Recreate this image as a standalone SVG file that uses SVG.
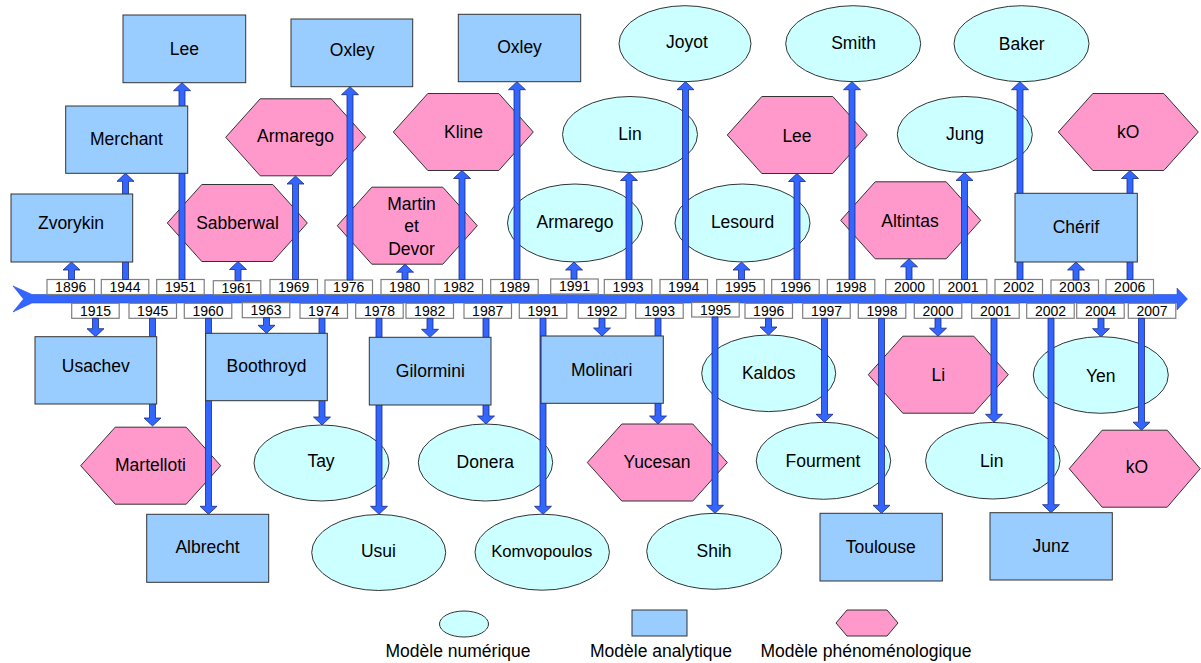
<svg xmlns="http://www.w3.org/2000/svg" width="1201" height="663" viewBox="0 0 1201 663">
<style>
.r{fill:#99CCFF;stroke:#333;stroke-width:1}
.h{fill:#FF99CC;stroke:#333;stroke-width:1}
.e{fill:#CCFFFF;stroke:#333;stroke-width:1}
.t{font-family:"Liberation Sans",Arial,sans-serif;font-size:17.5px;text-anchor:middle;fill:#000}
.yb{fill:#fff;stroke:#7f7f7f;stroke-width:1.2}
.yt{font-family:"Liberation Sans",Arial,sans-serif;font-size:14px;text-anchor:middle;fill:#000}
.a{fill:#3366FF;stroke:#1a2a80;stroke-width:0.8}
.bar{fill:#3366FF;stroke:#2a4fd0;stroke-width:0.6}
</style>
<rect width="1201" height="663" fill="#fff"/>
<g id="timeline">
<polygon class="bar" points="13,286 32,294.5 1177,294.5 1177,288 1187.5,299 1177,310 1177,303 32,303 13,312 23.5,299"/>
<g id="years-top">
<rect class="yb" x="47" y="279.5" width="47.5" height="15"/><text class="yt" x="70.7" y="291.8">1896</text>
<rect class="yb" x="101.3" y="279.5" width="47.5" height="15"/><text class="yt" x="125" y="291.8">1944</text>
<rect class="yb" x="156.7" y="279.5" width="47.5" height="15"/><text class="yt" x="180.5" y="291.8">1951</text>
<rect class="yb" x="213.3" y="280.7" width="47.5" height="14"/><text class="yt" x="237" y="292.6">1961</text>
<rect class="yb" x="270" y="279.5" width="47.5" height="15"/><text class="yt" x="293.7" y="291.8">1969</text>
<rect class="yb" x="325" y="280" width="47.5" height="14.5"/><text class="yt" x="348.7" y="292.2">1976</text>
<rect class="yb" x="381" y="279.5" width="47.5" height="15"/><text class="yt" x="404.7" y="291.8">1980</text>
<rect class="yb" x="435" y="279.5" width="47.5" height="15"/><text class="yt" x="458.7" y="291.8">1982</text>
<rect class="yb" x="490.7" y="279.5" width="47.5" height="15"/><text class="yt" x="514.5" y="291.8">1989</text>
<rect class="yb" x="550.7" y="279" width="47.5" height="15"/><text class="yt" x="574.5" y="291.3">1991</text>
<rect class="yb" x="604.3" y="279.5" width="47.5" height="15"/><text class="yt" x="628" y="291.8">1993</text>
<rect class="yb" x="660" y="279.5" width="47.5" height="15"/><text class="yt" x="683.7" y="291.8">1994</text>
<rect class="yb" x="716.7" y="279.5" width="47.5" height="15"/><text class="yt" x="740.5" y="291.8">1995</text>
<rect class="yb" x="771.7" y="279.5" width="47.5" height="15"/><text class="yt" x="795.5" y="291.8">1996</text>
<rect class="yb" x="827.3" y="279.5" width="47.5" height="15"/><text class="yt" x="851" y="291.8">1998</text>
<rect class="yb" x="885.7" y="279.5" width="47.5" height="15"/><text class="yt" x="909.5" y="291.8">2000</text>
<rect class="yb" x="939.3" y="279.5" width="47.5" height="15"/><text class="yt" x="963" y="291.8">2001</text>
<rect class="yb" x="995" y="279.5" width="47.5" height="15"/><text class="yt" x="1018.7" y="291.8">2002</text>
<rect class="yb" x="1051" y="280" width="47.5" height="14.5"/><text class="yt" x="1074.7" y="292.3">2003</text>
<rect class="yb" x="1106" y="279.5" width="47.5" height="15"/><text class="yt" x="1129.7" y="291.8">2006</text>
</g>
<g id="years-bottom">
<rect class="yb" x="71.7" y="303.3" width="47.5" height="15"/><text class="yt" x="95.5" y="315.5">1915</text>
<rect class="yb" x="129" y="303.3" width="47.5" height="15"/><text class="yt" x="152.7" y="315.5">1945</text>
<rect class="yb" x="184.3" y="303.3" width="47.5" height="15"/><text class="yt" x="208" y="315.5">1960</text>
<rect class="yb" x="242.3" y="302.7" width="47.5" height="15"/><text class="yt" x="266" y="314.8">1963</text>
<rect class="yb" x="300" y="303.3" width="47.5" height="15"/><text class="yt" x="323.7" y="315.5">1974</text>
<rect class="yb" x="355.7" y="303.3" width="47.5" height="15"/><text class="yt" x="379.5" y="315.5">1978</text>
<rect class="yb" x="406" y="303.3" width="47.5" height="15"/><text class="yt" x="429.7" y="315.5">1982</text>
<rect class="yb" x="464" y="303.3" width="47.5" height="15"/><text class="yt" x="487.7" y="315.5">1987</text>
<rect class="yb" x="519.3" y="303.3" width="47.5" height="15"/><text class="yt" x="543" y="315.5">1991</text>
<rect class="yb" x="578.3" y="303.3" width="47.5" height="15"/><text class="yt" x="602" y="315.5">1992</text>
<rect class="yb" x="635.7" y="303.3" width="47.5" height="15"/><text class="yt" x="659.5" y="315.5">1993</text>
<rect class="yb" x="691.7" y="302.5" width="47.5" height="14.5"/><text class="yt" x="715.5" y="314.5">1995</text>
<rect class="yb" x="745" y="303.3" width="47.5" height="15"/><text class="yt" x="768.7" y="315.5">1996</text>
<rect class="yb" x="802.7" y="303.3" width="47.5" height="15"/><text class="yt" x="826.5" y="315.5">1997</text>
<rect class="yb" x="858.3" y="303.3" width="47.5" height="15"/><text class="yt" x="882" y="315.5">1998</text>
<rect class="yb" x="914.3" y="303.3" width="47.5" height="15"/><text class="yt" x="938" y="315.5">2000</text>
<rect class="yb" x="971.7" y="303.3" width="47.5" height="15"/><text class="yt" x="995.5" y="315.5">2001</text>
<rect class="yb" x="1026.7" y="303.3" width="47.5" height="15"/><text class="yt" x="1050.5" y="315.5">2002</text>
<rect class="yb" x="1076.7" y="303.3" width="47.5" height="15"/><text class="yt" x="1100.5" y="315.5">2004</text>
<rect class="yb" x="1128.3" y="303.3" width="47.5" height="15"/><text class="yt" x="1152" y="315.5">2007</text>
</g>
</g>
<g id="nodes-numeric-phenomenological">
<g id="n-sabberwal"><polygon class="h" points="167.3,223 201.8,184.5 272.8,184.5 307.3,223 272.8,261.5 201.8,261.5"/><text class="t" x="237.5" y="228.5">Sabberwal</text></g>
<g id="n-armarego-hex"><polygon class="h" points="225.7,137.3 260.2,98.8 331.2,98.8 365.7,137.3 331.2,175.8 260.2,175.8"/><text class="t" x="295.5" y="141.5">Armarego</text></g>
<g id="n-martin-devor"><polygon class="h" points="337.3,225.7 371.8,187.2 442.8,187.2 477.3,225.7 442.8,264.2 371.8,264.2"/><text class="t" x="411.5" y="210">Martin</text><text class="t" x="411.5" y="232">et</text><text class="t" x="411.5" y="255">Devor</text></g>
<g id="n-kline"><polygon class="h" points="393.3,132 427.8,93.5 498.8,93.5 533.3,132 498.8,170.5 427.8,170.5"/><text class="t" x="463.5" y="138">Kline</text></g>
<g id="n-armarego-ell"><ellipse class="e" cx="575" cy="223" rx="67.5" ry="39"/><text class="t" x="575" y="227.5">Armarego</text></g>
<g id="n-lin-top"><ellipse class="e" cx="630" cy="134.5" rx="67.5" ry="38"/><text class="t" x="630" y="140">Lin</text></g>
<g id="n-joyot"><ellipse class="e" cx="685" cy="43.7" rx="66" ry="38"/><text class="t" x="687" y="48">Joyot</text></g>
<g id="n-lesourd"><ellipse class="e" cx="742.5" cy="223" rx="67.5" ry="39"/><text class="t" x="742.5" y="228">Lesourd</text></g>
<g id="n-lee-hex"><polygon class="h" points="727.3,135 761.8,96.5 832.8,96.5 867.3,135 832.8,173.5 761.8,173.5"/><text class="t" x="797" y="141.5">Lee</text></g>
<g id="n-smith"><ellipse class="e" cx="853.2" cy="43.7" rx="67.5" ry="38"/><text class="t" x="853.5" y="49">Smith</text></g>
<g id="n-altintas"><polygon class="h" points="840.7,220.3 875.2,181.8 946.2,181.8 980.7,220.3 946.2,258.8 875.2,258.8"/><text class="t" x="910" y="226.5">Altintas</text></g>
<g id="n-jung"><ellipse class="e" cx="964.8" cy="134.5" rx="67.5" ry="38"/><text class="t" x="965" y="139.5">Jung</text></g>
<g id="n-baker"><ellipse class="e" cx="1021.5" cy="43.7" rx="67.5" ry="38"/><text class="t" x="1021.7" y="50">Baker</text></g>
<g id="n-ko-top"><polygon class="h" points="1058.3,132 1092.8,93.5 1163.8,93.5 1198.3,132 1163.8,170.5 1092.8,170.5"/><text class="t" x="1128.3" y="137.5">kO</text></g>
<g id="n-martelloti"><polygon class="h" points="80.7,465.7 115.2,427.2 186.2,427.2 220.7,465.7 186.2,504.2 115.2,504.2"/><text class="t" x="150.5" y="471">Martelloti</text></g>
<g id="n-tay"><ellipse class="e" cx="321.5" cy="463" rx="67.5" ry="38"/><text class="t" x="321" y="466.5">Tay</text></g>
<g id="n-usui"><ellipse class="e" cx="378.7" cy="552.5" rx="67" ry="38"/><text class="t" x="378.5" y="556.5">Usui</text></g>
<g id="n-donera"><ellipse class="e" cx="485.5" cy="462.5" rx="67.2" ry="38.5"/><text class="t" x="485.3" y="468">Donera</text></g>
<g id="n-komvopoulos"><ellipse class="e" cx="542.2" cy="552.2" rx="67.2" ry="38"/><text class="t" x="541.7" y="556.5" style="font-size:16.7px">Komvopoulos</text></g>
<g id="n-yucesan"><polygon class="h" points="587.3,462.5 621.8,424 692.8,424 727.3,462.5 692.8,501 621.8,501"/><text class="t" x="657" y="468">Yucesan</text></g>
<g id="n-shih"><ellipse class="e" cx="714.2" cy="551.3" rx="67.5" ry="38"/><text class="t" x="714" y="557">Shih</text></g>
<g id="n-kaldos"><ellipse class="e" cx="768.7" cy="373.3" rx="67" ry="38.3"/><text class="t" x="768.7" y="379">Kaldos</text></g>
<g id="n-fourment"><ellipse class="e" cx="823.5" cy="460.8" rx="67.2" ry="38.5"/><text class="t" x="823" y="466.7">Fourment</text></g>
<g id="n-li"><polygon class="h" points="868.3,374.7 902.8,336.2 973.8,336.2 1008.3,374.7 973.8,413.2 902.8,413.2"/><text class="t" x="938.3" y="380.5">Li</text></g>
<g id="n-lin-bottom"><ellipse class="e" cx="992.8" cy="460.7" rx="67.2" ry="38.3"/><text class="t" x="991.7" y="466.7">Lin</text></g>
<g id="n-yen"><ellipse class="e" cx="1100.8" cy="375" rx="67.5" ry="38.3"/><text class="t" x="1100.8" y="381.5">Yen</text></g>
<g id="n-ko-bottom"><polygon class="h" points="1069.2,468.7 1102.2,430.2 1167.2,430.2 1200.2,468.7 1167.2,507.2 1102.2,507.2"/><text class="t" x="1137" y="473.3">kO</text></g>
</g>
<g id="connectors">
<path class="a" d="M68.5 279.5V270H63L71.5 262L80 270H74.5V279.5Z"/>
<path class="a" d="M122.5 279.5V181.3H117L125.5 173.3L134 181.3H128.5V279.5Z"/>
<path class="a" d="M179 279.5V90.7H173.5L182 82.7L190.5 90.7H185V279.5Z"/>
<path class="a" d="M235 280.7V269.5H229.5L238 261.5L246.5 269.5H241V280.7Z"/>
<path class="a" d="M292.5 279.5V184H287L295.5 176L304 184H298.5V279.5Z"/>
<path class="a" d="M347 280V94.7H341.5L350 86.7L358.5 94.7H353V280Z"/>
<path class="a" d="M402 279.5V272.2H396.5L405 264.2L413.5 272.2H408V279.5Z"/>
<path class="a" d="M459 279.5V178.5H453.5L462 170.5L470.5 178.5H465V279.5Z"/>
<path class="a" d="M514 279.5V89.7H508.5L517 81.7L525.5 89.7H520V279.5Z"/>
<path class="a" d="M571 279V270H565.5L574 262L582.5 270H577V279Z"/>
<path class="a" d="M626 279.5V180.5H620.5L629 172.5L637.5 180.5H632V279.5Z"/>
<path class="a" d="M682.5 279.5V89.7H677L685.5 81.7L694 89.7H688.5V279.5Z"/>
<path class="a" d="M738.5 279.5V270H733L741.5 262L750 270H744.5V279.5Z"/>
<path class="a" d="M794 279.5V181.5H788.5L797 173.5L805.5 181.5H800V279.5Z"/>
<path class="a" d="M849 279.5V89.7H843.5L852 81.7L860.5 89.7H855V279.5Z"/>
<path class="a" d="M906 279.5V266.8H900.5L909 258.8L917.5 266.8H912V279.5Z"/>
<path class="a" d="M961.5 279.5V180.5H956L964.5 172.5L973 180.5H967.5V279.5Z"/>
<path class="a" d="M1017 279.5V89.7H1011.5L1020 81.7L1028.5 89.7H1023V279.5Z"/>
<path class="a" d="M1073 280V270H1067.5L1076 262L1084.5 270H1079V280Z"/>
<path class="a" d="M1127 279.5V178.5H1121.5L1130 170.5L1138.5 178.5H1133V279.5Z"/>
<path class="a" d="M92.5 318.3V328.7H87L95.5 336.7L104 328.7H98.5V318.3Z"/>
<path class="a" d="M149.5 318.3V418H144L152.5 426L161 418H155.5V318.3Z"/>
<path class="a" d="M205.5 318.3V506.3H200L208.5 514.3L217 506.3H211.5V318.3Z"/>
<path class="a" d="M263.5 317.7V325.3H258L266.5 333.3L275 325.3H269.5V317.7Z"/>
<path class="a" d="M319 318.3V417H313.5L322 425L330.5 417H325V318.3Z"/>
<path class="a" d="M376 318.3V506.3H370.5L379 514.3L387.5 506.3H382V318.3Z"/>
<path class="a" d="M427 318.3V329.3H421.5L430 337.3L438.5 329.3H433V318.3Z"/>
<path class="a" d="M483 318.3V416H477.5L486 424L494.5 416H489V318.3Z"/>
<path class="a" d="M540 318.3V506.3H534.5L543 514.3L551.5 506.3H546V318.3Z"/>
<path class="a" d="M599 318.3V328H593.5L602 336L610.5 328H605V318.3Z"/>
<path class="a" d="M655 318.3V416H649.5L658 424L666.5 416H661V318.3Z"/>
<path class="a" d="M712 317V505.3H706.5L715 513.3L723.5 505.3H718V317Z"/>
<path class="a" d="M765.5 318.3V327H760L768.5 335L777 327H771.5V318.3Z"/>
<path class="a" d="M821.5 318.3V414.3H816L824.5 422.3L833 414.3H827.5V318.3Z"/>
<path class="a" d="M878.5 318.3V505.3H873L881.5 513.3L890 505.3H884.5V318.3Z"/>
<path class="a" d="M935 318.3V328.2H929.5L938 336.2L946.5 328.2H941V318.3Z"/>
<path class="a" d="M991 318.3V414.3H985.5L994 422.3L1002.5 414.3H997V318.3Z"/>
<path class="a" d="M1048 318.3V504.7H1042.5L1051 512.7L1059.5 504.7H1054V318.3Z"/>
<path class="a" d="M1098 318.3V328.7H1092.5L1101 336.7L1109.5 328.7H1104V318.3Z"/>
<path class="a" d="M1138.5 318.3V422.2H1133L1141.5 430.2L1150 422.2H1144.5V318.3Z"/>
</g>
<g id="nodes-analytic">
<g id="n-zvorykin"><rect class="r" x="11" y="194" width="121.7" height="68"/><text class="t" x="71" y="229">Zvorykin</text></g>
<g id="n-merchant"><rect class="r" x="65.7" y="106" width="122" height="67.3"/><text class="t" x="126.5" y="145">Merchant</text></g>
<g id="n-lee"><rect class="r" x="123" y="15" width="122.7" height="67.7"/><text class="t" x="184.3" y="55">Lee</text></g>
<g id="n-oxley-1"><rect class="r" x="291" y="19" width="121.7" height="67.7"/><text class="t" x="352.2" y="56">Oxley</text></g>
<g id="n-oxley-2"><rect class="r" x="458.3" y="14.3" width="122.4" height="67.4"/><text class="t" x="519.5" y="52.5">Oxley</text></g>
<g id="n-cherif"><rect class="r" x="1015" y="193.3" width="122.3" height="68.7"/><text class="t" x="1076" y="233">Chérif</text></g>
<g id="n-usachev"><rect class="r" x="35" y="336.7" width="121.7" height="67.3"/><text class="t" x="95.8" y="372">Usachev</text></g>
<g id="n-boothroyd"><rect class="r" x="205.7" y="333.3" width="121.6" height="67.4"/><text class="t" x="266.5" y="371.5">Boothroyd</text></g>
<g id="n-albrecht"><rect class="r" x="146.7" y="514.3" width="122" height="68"/><text class="t" x="207.5" y="553">Albrecht</text></g>
<g id="n-gilormini"><rect class="r" x="369.3" y="337.3" width="121.7" height="67.7"/><text class="t" x="430.3" y="377">Gilormini</text></g>
<g id="n-molinari"><rect class="r" x="541" y="336" width="122.3" height="67.3"/><text class="t" x="601.7" y="376">Molinari</text></g>
<g id="n-toulouse"><rect class="r" x="820" y="513.3" width="122.3" height="67.7"/><text class="t" x="880.8" y="552.7">Toulouse</text></g>
<g id="n-junz"><rect class="r" x="990" y="512.7" width="122.3" height="67.3"/><text class="t" x="1051" y="552">Junz</text></g>
</g>
<g id="legend">
<ellipse class="e" cx="464" cy="624" rx="24.5" ry="13"/>
<rect class="r" x="632" y="610" width="55" height="26"/>
<polygon class="h" points="836,623 847,610 887,610 898,623 887,636 847,636"/>
<text class="t" x="458" y="657">Modèle numérique</text>
<text class="t" x="661" y="657">Modèle analytique</text>
<text class="t" x="866" y="657">Modèle phénoménologique</text>
</g>
</svg>
